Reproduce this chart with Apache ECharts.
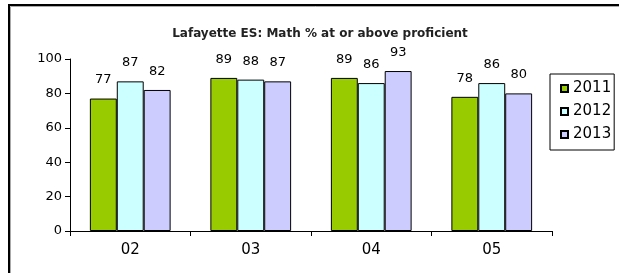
<!DOCTYPE html>
<html><head><meta charset="utf-8">
<script src="https://cdn.jsdelivr.net/npm/echarts@6/dist/echarts.min.js"></script>
<style>html,body{margin:0;padding:0;background:#fff}#c{width:619px;height:273px}</style>
</head><body><div id="c"></div>
<script>
const categories = ['02', '03', '04', '05'];
const years = ['2011', '2012', '2013'];
const s2011 = [77, 89, 89, 78];
const s2012 = [87, 88, 86, 86];
const s2013 = [82, 87, 93, 80];
const yTicks = [0, 20, 40, 60, 80, 100];
const colors = ['#99CC00', '#CCFFFF', '#CCCCFF'];
const FONT = 'DejaVu Sans';

const chart = echarts.init(document.getElementById('c'), null, {renderer: 'canvas'});
const seriesData = [s2011, s2012, s2013];
chart.setOption({
  animation: false,
  title: {
    text: 'Lafayette ES: Math % at or above proficient',
    left: 315, top: 23, textAlign: 'center',
    textStyle: {fontFamily: FONT, fontSize: 12, fontWeight: 'bold', color: '#222'}
  },
  graphic: [
    {type: 'rect', shape: {x: 9, y: 5, width: 700, height: 400},
     style: {fill: 'none', stroke: '#000', lineWidth: 2}, silent: true, z: 100},
    {type: 'rect', shape: {x: 10.5, y: 6.5, width: 700, height: 400},
     style: {fill: 'none', stroke: '#aaa', lineWidth: 1}, silent: true, z: 99}
  ],
  legend: {
    orient: 'vertical', left: 550, top: 74,
    data: years,
    icon: 'rect', itemWidth: 7, itemHeight: 7, itemGap: 8,
    borderColor: '#000', borderWidth: 1, borderRadius: 0,
    padding: [7, 3, 8, 10],
    textStyle: {fontFamily: FONT, fontSize: 15, color: '#000'}
  },
  grid: {left: 70, right: 67, top: 59, bottom: 42},
  xAxis: {
    type: 'category', data: categories,
    axisLine: {lineStyle: {color: '#000', width: 1}},
    axisTick: {show: true, length: 5, lineStyle: {color: '#000'}},
    axisLabel: {fontFamily: FONT, fontSize: 15, color: '#000', margin: 12}
  },
  yAxis: {
    type: 'value', min: 0, max: 100, interval: 20,
    axisLine: {show: true, lineStyle: {color: '#000', width: 1}},
    axisTick: {show: true, length: 5, lineStyle: {color: '#000'}},
    splitLine: {show: false},
    axisLabel: {fontFamily: FONT, fontSize: 13, color: '#000', margin: 8,
      formatter: v => yTicks.includes(v) ? String(v) : ''}
  },
  series: years.map((y, i) => ({
    name: y, type: 'bar', data: seriesData[i],
    barGap: '0%', barCategoryGap: '33%',
    itemStyle: {color: colors[i], borderColor: '#000', borderWidth: 1},
    label: {show: true, position: 'top', distance: 12,
      fontFamily: FONT, fontSize: 13, color: '#000'}
  }))
});
</script></body></html>
